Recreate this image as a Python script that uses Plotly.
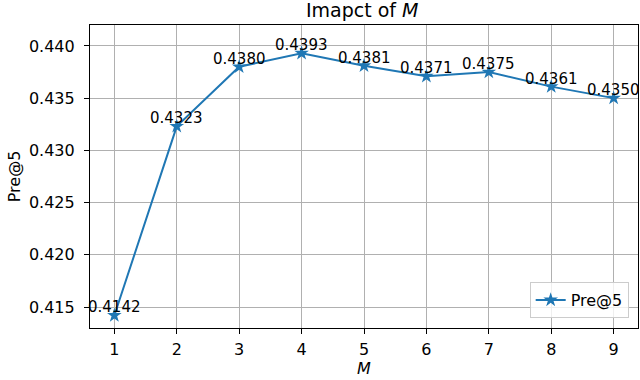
"""
Line chart: impact of M on Pre@5.
"""
import plotly.graph_objects as go

m_values = [1, 2, 3, 4, 5, 6, 7, 8, 9]
pre_at_5 = [0.4142, 0.4323, 0.4380, 0.4393, 0.4381, 0.4371, 0.4375, 0.4361, 0.4350]
y_ticks = [0.415, 0.420, 0.425, 0.430, 0.435, 0.440]

BLUE = "#1f77b4"
GRID = "#b0b0b0"
FONT = "DejaVu Sans"

fig = go.Figure()
fig.add_trace(
    go.Scatter(
        x=m_values,
        y=pre_at_5,
        mode="lines+markers",
        name="Pre@5",
        line=dict(color=BLUE, width=2),
        marker=dict(symbol="star", size=11, color=BLUE),
    )
)

# value labels above each point
for x, y in zip(m_values, pre_at_5):
    fig.add_annotation(
        x=x, y=y, text=f"{y:.4f}", showarrow=False,
        xanchor="center", yanchor="bottom", yshift=-3,
        font=dict(family=FONT, size=15, color="black"),
    )

axis_common = dict(
    showline=True, linecolor="black", linewidth=1.2, mirror=True,
    showgrid=True, gridcolor=GRID, gridwidth=1,
    ticks="outside", ticklen=5, tickcolor="black",
    tickfont=dict(family=FONT, size=16, color="black"),
    zeroline=False,
)

fig.update_layout(
    width=640,
    height=380,
    paper_bgcolor="white",
    plot_bgcolor="white",
    font=dict(family=FONT, size=16, color="black"),
    title=dict(text="Imapct of <i>M</i>", x=0.566, xanchor="center",
               y=0.974, yanchor="middle", font=dict(size=19)),
    xaxis=dict(
        **axis_common,
        range=[0.61, 9.39],
        tickmode="array", tickvals=m_values,
        ticklabelstandoff=2,
        title=dict(text="<i>M</i>", standoff=4, font=dict(size=16)),
    ),
    yaxis=dict(
        **axis_common,
        range=[0.4130, 0.4420],
        tickmode="array", tickvals=y_ticks,
        ticktext=[f"{t:.3f}" for t in y_ticks],
        ticklabelstandoff=6,
        title=dict(text="Pre@5", standoff=4, font=dict(size=16)),
    ),
    legend=dict(
        x=0.983, y=0.033, xanchor="right", yanchor="bottom",
        bgcolor="rgba(255,255,255,0.8)", bordercolor="#cccccc", borderwidth=1,
        font=dict(family=FONT, size=16),
    ),
    showlegend=True,
    margin=dict(l=90, r=2, t=25, b=52, autoexpand=False),
)

# drop the default 8px body margin so the figure fills the window
fig.write_html("out.html", config={"displayModeBar": False},
               post_script="document.body.style.margin='0';")
